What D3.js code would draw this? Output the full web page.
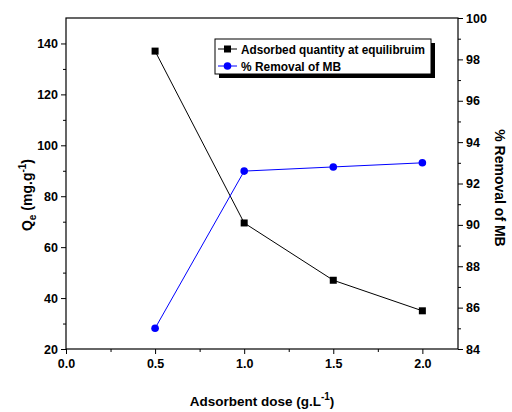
<!DOCTYPE html>
<html>
<head>
<meta charset="utf-8">
<script src="https://cdn.jsdelivr.net/npm/d3@7"></script>
<style>
  body { margin: 0; background: #fff; }
</style>
</head>
<body>
<svg width="512" height="412"></svg>
<script>
const dose = [0.5, 1.0, 1.5, 2.0];
const qe = [137, 69.5, 47, 35];
const removal = [85.0, 92.6, 92.8, 93.0];
const xTicks = [0.0, 0.5, 1.0, 1.5, 2.0];
const yLeftTicks = [20, 40, 60, 80, 100, 120, 140];
const yRightTicks = [84, 86, 88, 90, 92, 94, 96, 98, 100];

const FONT = "Arial, 'Liberation Sans', sans-serif";
const svg = d3.select("svg")
  .attr("font-family", FONT).attr("font-weight", "bold");
const margin = { top: 18, right: 54, bottom: 63, left: 66 };
const width = +svg.attr("width");
const height = +svg.attr("height");
const innerWidth = width - margin.left - margin.right;
const innerHeight = height - margin.top - margin.bottom;
const g = svg.append("g")
  .attr("transform", `translate(${margin.left},${margin.top})`);

const x = d3.scaleLinear().domain([0, 2.2]).range([0, innerWidth]);
const yL = d3.scaleLinear().domain([20, 150]).range([innerHeight, 0]);
const yR = d3.scaleLinear().domain([84, 100]).range([innerHeight, 0]);

// minor ticks
function minor(axis, scale, vals) {
  return axis(scale).tickValues(vals).tickSize(3).tickFormat("");
}
g.append("g").attr("transform", `translate(0,${innerHeight})`)
  .call(minor(d3.axisBottom, x, d3.range(0.25, 2.2, 0.5)));
g.append("g").call(minor(d3.axisLeft, yL, d3.range(30, 150, 20)));
g.append("g").attr("transform", `translate(${innerWidth},0)`)
  .call(minor(d3.axisRight, yR, d3.range(85, 100, 2)));

// major axes
g.append("g").attr("transform", `translate(0,${innerHeight})`)
  .call(d3.axisBottom(x).tickValues(xTicks).tickSize(5).tickPadding(5).tickFormat(d3.format(".1f")));
g.append("g")
  .call(d3.axisLeft(yL).tickValues(yLeftTicks).tickSize(5).tickPadding(3));
g.append("g").attr("transform", `translate(${innerWidth},0)`)
  .call(d3.axisRight(yR).tickValues(yRightTicks).tickSize(5).tickPadding(3));

g.selectAll(".domain").remove();
g.selectAll("g").attr("font-family", FONT).attr("font-size", 12.5);
g.selectAll(".tick line").attr("stroke", "#000").attr("stroke-width", 1);
g.selectAll(".tick text").attr("fill", "#000");

// frame
g.append("rect")
  .attr("width", innerWidth).attr("height", innerHeight)
  .attr("fill", "none").attr("stroke", "#000").attr("stroke-width", 1.2);

// series
const blackLine = d3.line().x((d, i) => x(dose[i])).y(d => yL(d));
const blueLine = d3.line().x((d, i) => x(dose[i])).y(d => yR(d));

g.append("path").attr("d", blackLine(qe))
  .attr("fill", "none").attr("stroke", "#000").attr("stroke-width", 1);
g.selectAll(".sq").data(qe).enter().append("rect")
  .attr("x", (d, i) => x(dose[i]) - 3.5).attr("y", d => yL(d) - 3.5)
  .attr("width", 7).attr("height", 7).attr("fill", "#000");

g.append("path").attr("d", blueLine(removal))
  .attr("fill", "none").attr("stroke", "#0000ff").attr("stroke-width", 1);
g.selectAll(".dot").data(removal).enter().append("circle")
  .attr("cx", (d, i) => x(dose[i])).attr("cy", d => yR(d))
  .attr("r", 3.8).attr("fill", "#0000ff");

// legend
const leg = svg.append("g").attr("transform", "translate(215,39)");
leg.append("rect").attr("x", 4).attr("y", 4).attr("width", 216).attr("height", 35).attr("fill", "#000");
leg.append("rect").attr("width", 216).attr("height", 35)
  .attr("fill", "#fff").attr("stroke", "#000").attr("stroke-width", 1);
const items = [
  { label: "Adsorbed quantity at equilibruim", color: "#000", shape: "square", w: 184 },
  { label: "% Removal of MB", color: "#0000ff", shape: "circle", w: 100 }
];
items.forEach((it, i) => {
  const yy = 10 + i * 17;
  leg.append("line").attr("x1", 3).attr("x2", 22).attr("y1", yy).attr("y2", yy)
    .attr("stroke", it.color).attr("stroke-width", 1);
  if (it.shape === "square") {
    leg.append("rect").attr("x", 9).attr("y", yy - 3.5).attr("width", 7).attr("height", 7).attr("fill", it.color);
  } else {
    leg.append("circle").attr("cx", 12.5).attr("cy", yy).attr("r", 3.8).attr("fill", it.color);
  }
  leg.append("text").attr("x", 26).attr("y", yy + 4.5).attr("font-size", 12.5)
    .attr("textLength", it.w).attr("lengthAdjust", "spacingAndGlyphs").text(it.label);
});

// axis titles
const xt = svg.append("text").attr("x", 262).attr("y", 406)
  .attr("text-anchor", "middle").attr("font-size", 13.5);
xt.append("tspan").text("Adsorbent dose (g.L");
xt.append("tspan").attr("dy", -6).attr("font-size", 10).text("-1");
xt.append("tspan").attr("dy", 6).text(")");

const yt = svg.append("text").attr("transform", "translate(32,195) rotate(-90)")
  .attr("text-anchor", "middle").attr("font-size", 14);
yt.append("tspan").text("Q");
yt.append("tspan").attr("dy", 4).attr("font-size", 10).text("e");
yt.append("tspan").attr("dy", -4).text(" (mg.g");
yt.append("tspan").attr("dy", -6).attr("font-size", 10).text("-1");
yt.append("tspan").attr("dy", 6).text(")");

svg.append("text").attr("transform", "translate(495,188) rotate(90)")
  .attr("text-anchor", "middle").attr("font-size", 14).text("% Removal of MB");
</script>
</body>
</html>
